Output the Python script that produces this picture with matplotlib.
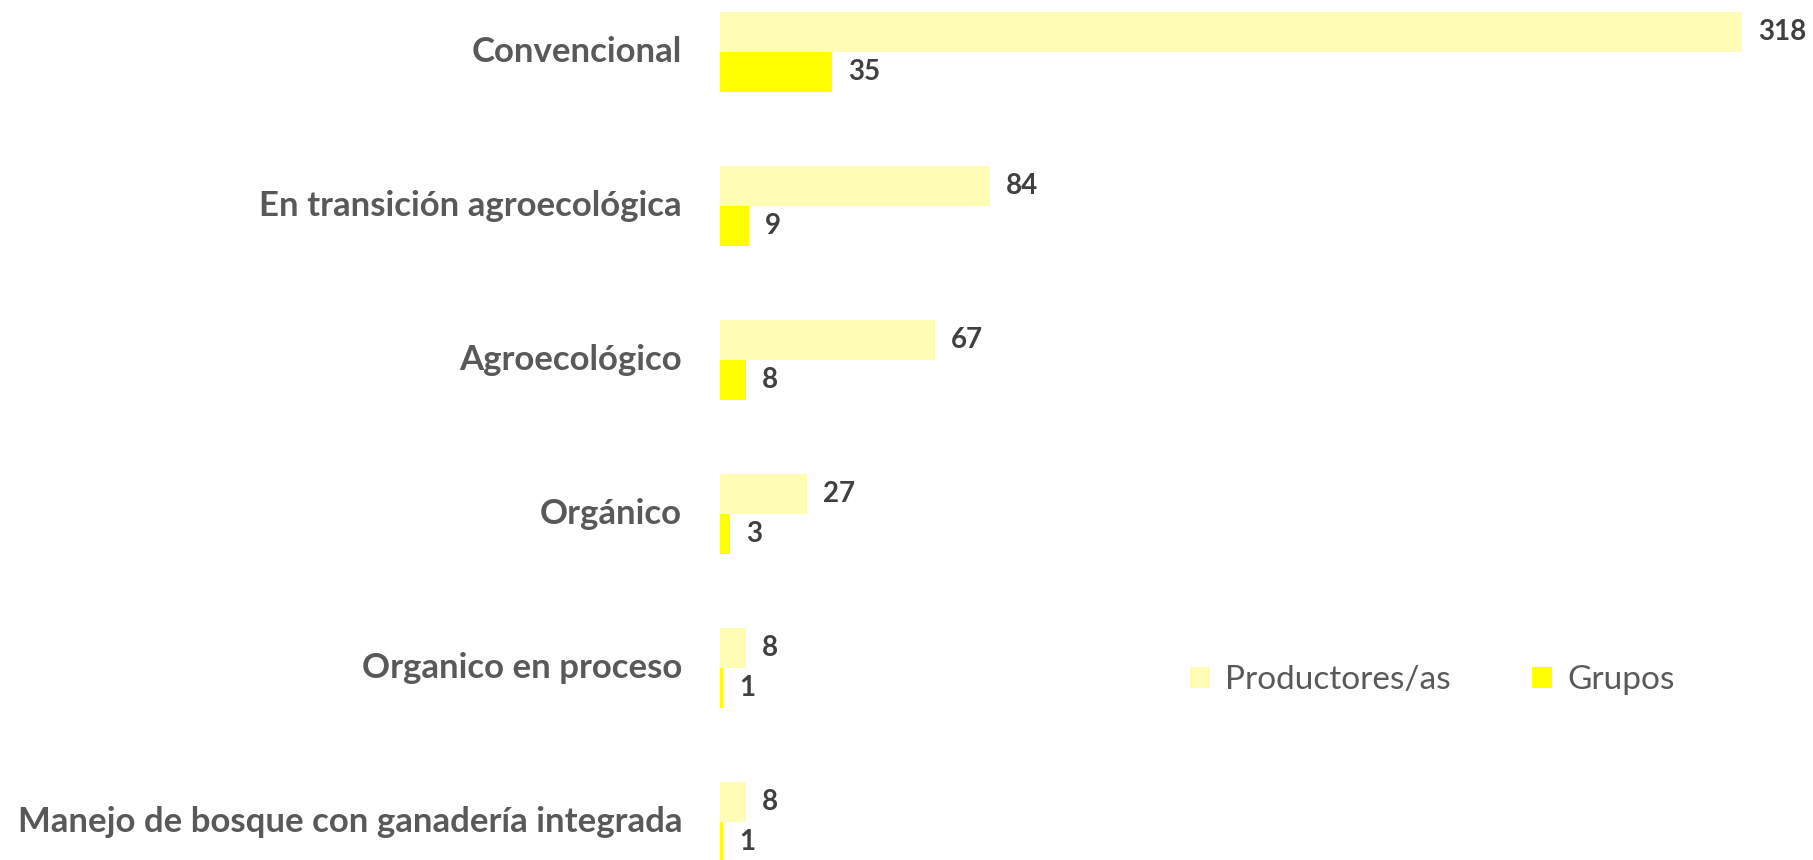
import matplotlib
matplotlib.use("Agg")
import matplotlib.pyplot as plt
from matplotlib.patches import Patch
import numpy as np

categories = ["Convencional", "En transición agroecológica", "Agroecológico",
              "Orgánico", "Organico en proceso", "Manejo de bosque con ganadería integrada"]
productores = [318, 84, 67, 27, 8, 8]
grupos = [35, 9, 8, 3, 1, 1]
series_names = ["Productores/as", "Grupos"]

c_prod = "#FFFCB6"
c_grp = "#FFFF00"
label_color = "#595959"
value_color = "#404040"
font = "Lato"

W, H = 1813, 860
fig = plt.figure(figsize=(W / 100, H / 100), dpi=100)
ax = fig.add_axes([720 / W, 0, 1 - 720 / W, 1])

y = np.arange(len(categories))
bh = 40 / 154
ax.barh(y - bh / 2, productores, height=bh, color=c_prod)
ax.barh(y + bh / 2, grupos, height=bh, color=c_grp)

ax.set_xlim(0, (W - 720) / 3.214)
ax.set_ylim(5 + 38 / 154, -52 / 154)
ax.axis("off")

gap = 16 / 3.214
for i in range(len(categories)):
    ax.text(productores[i] + gap, y[i] - bh / 2, str(productores[i]), ha="left", va="center",
            fontsize=20, fontweight="bold", color=value_color, family=font)
    ax.text(grupos[i] + gap, y[i] + bh / 2, str(grupos[i]), ha="left", va="center",
            fontsize=20, fontweight="bold", color=value_color, family=font)
    ax.text(-38 / 3.214, y[i], categories[i], ha="right", va="center",
            fontsize=25, fontweight="bold", color=label_color, family=font, clip_on=False)

handles = [Patch(facecolor=c_prod, edgecolor="none"), Patch(facecolor=c_grp, edgecolor="none")]
leg = fig.legend(handles, series_names, loc="center left", bbox_to_anchor=(1160 / W, 1 - 680 / H),
                 ncol=2, frameon=False, handlelength=0.6, handleheight=0.6, handletextpad=0.45,
                 columnspacing=2.45, prop={"family": font, "size": 24})
for t in leg.get_texts():
    t.set_color(label_color)

fig.savefig("out.png", dpi=100)
